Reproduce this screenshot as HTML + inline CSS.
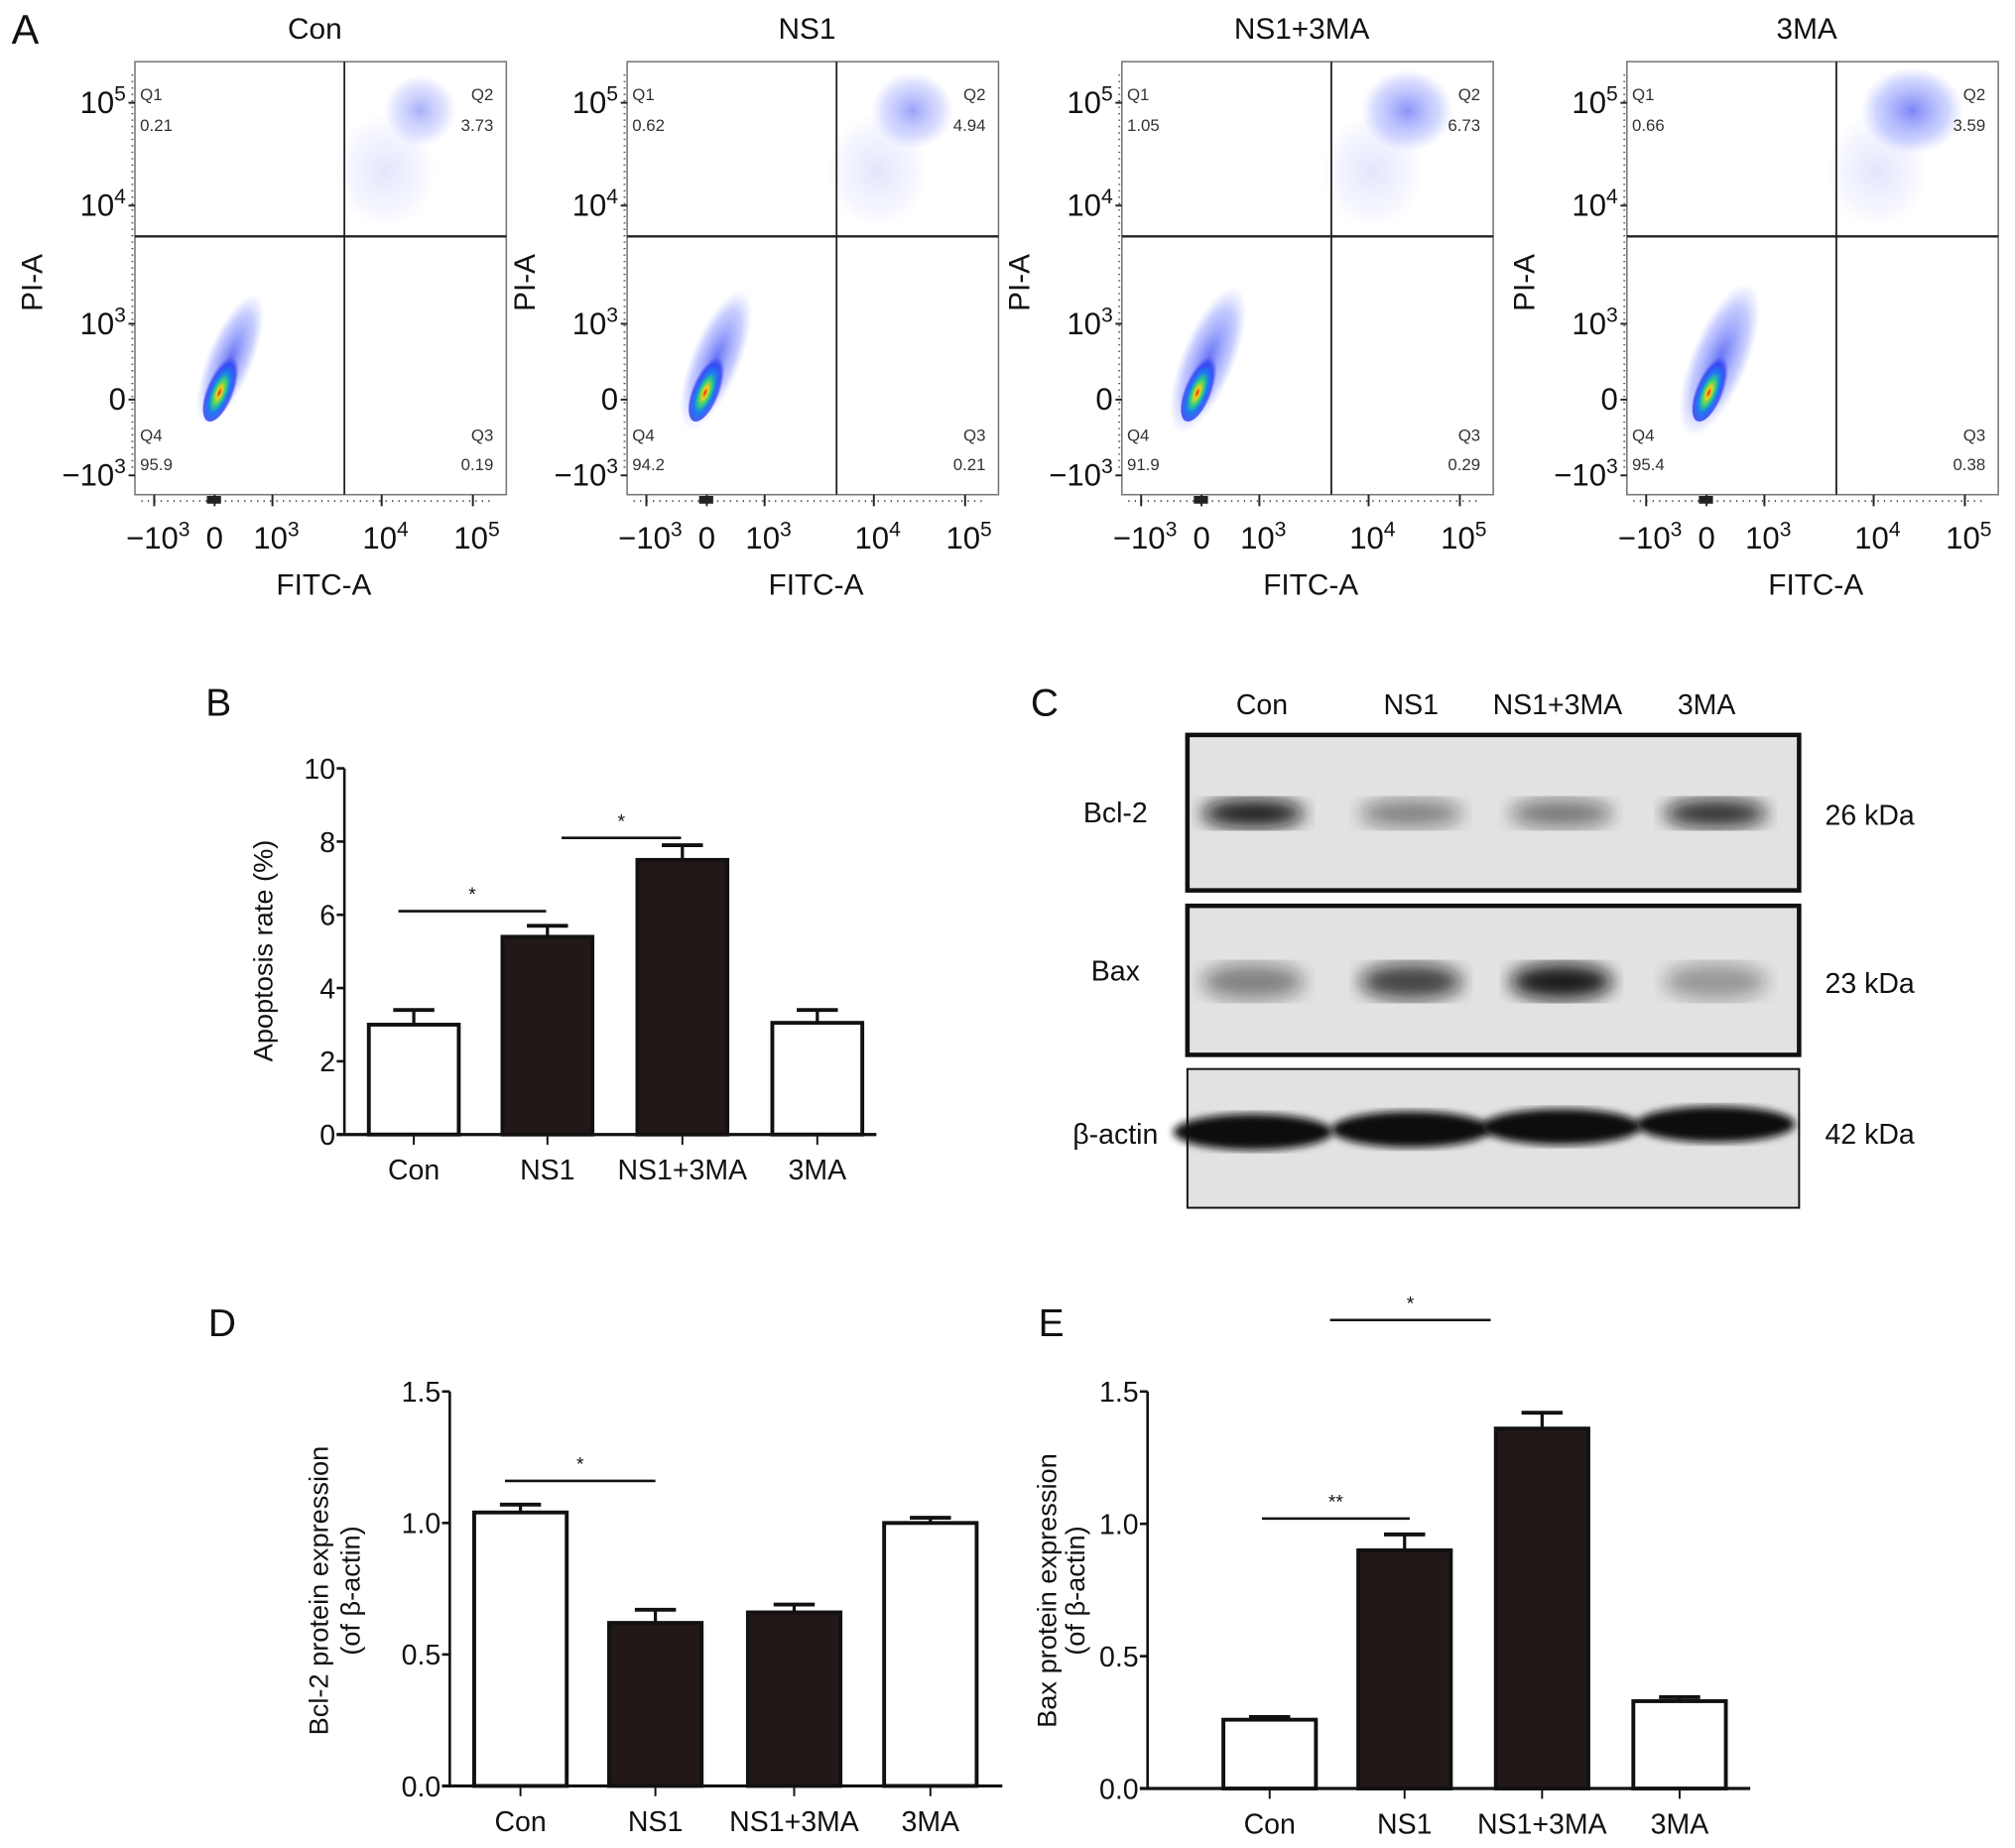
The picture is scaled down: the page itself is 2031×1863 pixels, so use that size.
<!DOCTYPE html>
<html><head><meta charset="utf-8"><style>
html,body{margin:0;padding:0;background:#fff;}
svg{display:block;font-family:"Liberation Sans",Arial,sans-serif;}
</style></head><body>
<svg id="fig" width="2031" height="1863" viewBox="0 0 1568 1438.3" preserveAspectRatio="none" xmlns="http://www.w3.org/2000/svg">
<defs>
<radialGradient id="dens" cx="50%" cy="60%" r="50%">
<stop offset="0" stop-color="#e0201a"/><stop offset="0.15" stop-color="#f2d21a"/><stop offset="0.35" stop-color="#33d07a"/><stop offset="0.55" stop-color="#1a7ef0"/><stop offset="0.8" stop-color="#2a3af0" stop-opacity="0.8"/><stop offset="1" stop-color="#4050ff" stop-opacity="0"/>
</radialGradient>
<radialGradient id="sparse" cx="50%" cy="50%" r="50%">
<stop offset="0" stop-color="#3040f0" stop-opacity="0.75"/><stop offset="0.7" stop-color="#6070ff" stop-opacity="0.35"/><stop offset="1" stop-color="#8090ff" stop-opacity="0"/>
</radialGradient>
<filter id="blur6"><feGaussianBlur stdDeviation="7"/></filter>
<filter id="blur3"><feGaussianBlur stdDeviation="3"/></filter>
</defs>
<g id="panelA"></g>
<g id="panelB"></g>
<g id="panelC"></g>
<g id="panelD"></g>
<g id="panelE"></g>
</svg>
<script>
// ---- Panel A data ----
const flowTitles = ["Con", "NS1", "NS1+3MA", "3MA"];
const flowQ1 = ["0.21", "0.62", "1.05", "0.66"];
const flowQ2 = ["3.73", "4.94", "6.73", "3.59"];
const flowQ3 = ["0.19", "0.21", "0.29", "0.38"];
const flowQ4 = ["95.9", "94.2", "91.9", "95.4"];
// ---- Panel B data ----
const groups = ["Con", "NS1", "NS1+3MA", "3MA"];
const apoptosisVals = [3.0, 5.4, 7.5, 3.05];
const apoptosisErr = [0.4, 0.3, 0.4, 0.35];
const apoptosisTicks = [0, 2, 4, 6, 8, 10];
// ---- Panel D data ----
const bcl2Vals = [1.04, 0.62, 0.66, 1.00];
const bcl2Err = [0.03, 0.05, 0.03, 0.02];
// ---- Panel E data ----
const baxVals = [0.26, 0.90, 1.36, 0.33];
const baxErr = [0.01, 0.06, 0.06, 0.015];
const exprTicks = ["0.0", "0.5", "1.0", "1.5"];
// ---- Panel C band intensities ----
const bcl2Band = [0.95, 0.45, 0.5, 0.85];
const baxBand = [0.45, 0.75, 0.95, 0.35];
const actinBand = [1, 1, 1, 1];

const NS = "http://www.w3.org/2000/svg";
function mk(parent, tag, attrs, text) {
  const e = document.createElementNS(NS, tag);
  for (const k in attrs) e.setAttribute(k, attrs[k]);
  if (text !== undefined) e.textContent = text;
  parent.appendChild(e);
  return e;
}
function pow(parent, x, y, base, exp, size, anchor) {
  const t = mk(parent, "text", {x: x, y: y, "font-size": size, "text-anchor": anchor || "middle", fill: "#111"});
  const a = document.createElementNS(NS, "tspan"); a.textContent = base; t.appendChild(a);
  const b = document.createElementNS(NS, "tspan"); b.setAttribute("dy", -size * 0.4); b.setAttribute("font-size", size * 0.68); b.textContent = exp; t.appendChild(b);
  return t;
}

// ===== Panel A =====
const A = document.getElementById("panelA");
const lbA = mk(A, "text", {x: 9, y: 34, "font-size": 32, fill: "#111"}, "A");


const boxLefts = [105, 488, 873, 1266];
const boxW = 289, boxTop = 48, boxH = 337;
const blobShift = [[0, 0], [-5, 0], [-7, 0], [-2, 0]];
flowTitles.forEach((title, i) => {
  const L = boxLefts[i];
  const g = mk(A, "g", {});
  
  
  const tt = mk(g, "text", {x: L + 140, y: 30, "font-size": 23, "text-anchor": "middle", fill: "#111"}, title);
  
  
  const s = blobShift[i];
  mk(g, "ellipse", {cx: L + 74 + s[0], cy: boxTop + 232, rx: 18 + i * 1.5, ry: 55 + i * 3, fill: "url(#sparse)", transform: `rotate(22 ${L + 74 + s[0]} ${boxTop + 232})`});
  mk(g, "ellipse", {cx: L + 68 + s[0], cy: boxTop + 252, rx: 11, ry: 30, fill: "url(#dens)", transform: `rotate(22 ${L + 68 + s[0]} ${boxTop + 252})`});
  mk(g, "ellipse", {cx: L + 222, cy: boxTop + 38, rx: 28 + i * 4, ry: 28 + i * 2, fill: "url(#sparse)", opacity: 0.55 + i * 0.1});
  mk(g, "ellipse", {cx: L + 195, cy: boxTop + 85, rx: 40, ry: 45, fill: "url(#sparse)", opacity: 0.18});
  const bx = mk(g, "rect", {x: L, y: boxTop, width: boxW, height: boxH, fill: "none", stroke: "#777", "stroke-width": 1.2});
  
  
  mk(g, "line", {x1: L, x2: L + boxW, y1: boxTop + 136, y2: boxTop + 136, stroke: "#222", "stroke-width": 1.8});
  mk(g, "line", {x1: L + 163, x2: L + 163, y1: boxTop, y2: boxTop + boxH, stroke: "#222", "stroke-width": 1.4});
  const qs = [["Q1", L + 4, 78, "start"], [flowQ1[i], L + 4, 102, "start"], ["Q2", L + 279, 78, "end"], [flowQ2[i], L + 279, 102, "end"],
              ["Q4", L + 4, 343, "start"], [flowQ4[i], L + 4, 366, "start"], ["Q3", L + 279, 343, "end"], [flowQ3[i], L + 279, 366, "end"]];
  qs.forEach(q => {
    const t = mk(g, "text", {x: q[1], y: q[2], "font-size": 13, "text-anchor": q[3], fill: "#333"}, q[0]);
    
    
  });
  const yt = [[32, "10", "5"], [112, "10", "4"], [204, "10", "3"], [263, "0", null], [322, "\u221210", "3"]];
  yt.forEach(t => {
    const y = boxTop + t[0];
    mk(g, "line", {x1: L - 5, x2: L, y1: y, y2: y, stroke: "#222", "stroke-width": 1.5});
    if (t[2]) pow(g, L - 7, y + 8, t[1], t[2], 24, "end");
    else mk(g, "text", {x: L - 7, y: y + 8, "font-size": 24, "text-anchor": "end", fill: "#111"}, t[1]);
  });
  mk(g, "line", {x1: L - 2, x2: L - 2, y1: boxTop + 10, y2: boxTop + boxH - 20, stroke: "#555", "stroke-width": 1.5, "stroke-dasharray": "1 4"});
  mk(g, "line", {x1: L + 5, x2: L + boxW - 10, y1: boxTop + boxH + 5, y2: boxTop + boxH + 5, stroke: "#555", "stroke-width": 1.5, "stroke-dasharray": "1 4"});
  mk(g, "rect", {x: L + 56, y: boxTop + boxH + 1, width: 11, height: 6, fill: "#222"});
  const xt = [[15, "\u221210", "3"], [62, "0", null], [107, "10", "3"], [192, "10", "4"], [263, "10", "5"]];
  xt.forEach(t => {
    const x = L + t[0];
    mk(g, "line", {x1: x, x2: x, y1: boxTop + boxH, y2: boxTop + boxH + 9, stroke: "#222", "stroke-width": 1.5});
    if (t[2]) pow(g, x + 3, 427, t[1], t[2], 24, "middle");
    else mk(g, "text", {x: x, y: 427, "font-size": 24, "text-anchor": "middle", fill: "#111"}, t[1]);
  });
  const xl = mk(g, "text", {x: L + 147, y: 463, "font-size": 23, "text-anchor": "middle", fill: "#111"}, "FITC-A");
  
  
  const yl = mk(g, "text", {x: 0, y: 0, "font-size": 23, "text-anchor": "middle", fill: "#111", transform: `translate(${L - 72},220) rotate(-90)`}, "PI-A");
  
  
});

// ===== generic bar chart =====
function barChart(root, cfg) {
  const {vals, errs, ticks, tickLabels, yMax, x0, x1, yBase, yTop, centers, barW, fills, title, label, labelPos, sig} = cfg;
  const ys = v => yBase - (v / yMax) * (yBase - yTop);
  const lb = mk(root, "text", {x: labelPos[0], y: labelPos[1], "font-size": 30, fill: "#111"}, label);
  
  
  const ya = mk(root, "line", {x1: x0, x2: x0, y1: ys(yMax), y2: yBase, stroke: "#111", "stroke-width": 2});
  
  
  ticks.forEach((t, i) => {
    const y = ys(t);
    mk(root, "line", {x1: x0 - 6, x2: x0, y1: y, y2: y, stroke: "#111", "stroke-width": 2});
    const tl = mk(root, "text", {x: x0 - 7, y: y + 8, "font-size": 22, "text-anchor": "end", fill: "#111"}, tickLabels[i]);
    
    
  });
  vals.forEach((v, i) => {
    const cx = centers[i];
    const top = ys(v), et = ys(v + errs[i]);
    mk(root, "line", {x1: cx, x2: cx, y1: et, y2: top, stroke: "#111", "stroke-width": 2.5});
    mk(root, "line", {x1: cx - 16, x2: cx + 16, y1: et, y2: et, stroke: "#111", "stroke-width": 3});
    const b = mk(root, "rect", {x: cx - barW / 2, y: top, width: barW, height: yBase - top, fill: fills[i] ? "#231818" : "#fff", stroke: "#111", "stroke-width": 3});
    
    
    mk(root, "line", {x1: cx, x2: cx, y1: yBase, y2: yBase + 8, stroke: "#111", "stroke-width": 1.5});
    const gl = mk(root, "text", {x: cx, y: yBase + 35, "font-size": 22, "text-anchor": "middle", fill: "#111"}, groups[i]);
    
    
  });
  const xa = mk(root, "line", {x1: x0 - 6, x2: x1, y1: yBase, y2: yBase, stroke: "#111", "stroke-width": 2.5});
  
  
  sig.forEach(s => {
    const y = ys(s[0]);
    const l = mk(root, "line", {x1: s[1], x2: s[2], y1: y, y2: y, stroke: "#111", "stroke-width": 2});
    
    
    mk(root, "text", {x: (s[1] + s[2]) / 2, y: y - 8, "font-size": 15, "text-anchor": "middle", fill: "#111"}, s[3]);
  });
  const yl = mk(root, "text", {x: 0, y: 0, "font-size": 21, "text-anchor": "middle", fill: "#111", transform: `translate(${title.x},${title.y}) rotate(-90)`});
  
  
  title.lines.forEach((ln, k) => {
    const ts = document.createElementNS(NS, "tspan");
    ts.setAttribute("x", 0); ts.setAttribute("dy", k === 0 ? 0 : (title.dy || 25)); ts.textContent = ln; yl.appendChild(ts);
  });
}

barChart(document.getElementById("panelB"), {
  vals: apoptosisVals, errs: apoptosisErr, ticks: apoptosisTicks, tickLabels: apoptosisTicks.map(String),
  yMax: 10, x0: 268, x1: 682, yBase: 883, yTop: 598, centers: [322, 426, 531, 636], barW: 70,
  fills: [0, 1, 1, 0], label: "B", labelPos: [160, 557],
  title: {x: 212, y: 740, lines: ["Apoptosis rate (%)"]},
  sig: [[6.1, 310, 425, "*"], [8.1, 437, 530, "*"]]
});
barChart(document.getElementById("panelD"), {
  vals: bcl2Vals, errs: bcl2Err, ticks: [0, 0.5, 1.0, 1.5], tickLabels: exprTicks,
  yMax: 1.5, x0: 350, x1: 780, yBase: 1390, yTop: 1083, centers: [405, 510, 618, 724], barW: 72,
  fills: [0, 1, 1, 0], label: "D", labelPos: [162, 1040],
  title: {x: 255, y: 1238, lines: ["Bcl-2 protein expression", "(of \u03b2-actin)"]},
  sig: [[1.16, 393, 510, "*"]]
});
barChart(document.getElementById("panelE"), {
  vals: baxVals, errs: baxErr, ticks: [0, 0.5, 1.0, 1.5], tickLabels: exprTicks,
  yMax: 1.5, x0: 893, x1: 1362, yBase: 1392, yTop: 1083, centers: [988, 1093, 1200, 1307], barW: 72,
  fills: [0, 1, 1, 0], label: "E", labelPos: [808, 1040],
  title: {x: 822, y: 1238, dy: 22, lines: ["Bax protein expression", "(of \u03b2-actin)"]},
  sig: [[1.02, 982, 1097, "**"], [1.77, 1035, 1160, "*"]]
});

// ===== Panel C =====
const C = document.getElementById("panelC");
const lbC = mk(C, "text", {x: 802, y: 557, "font-size": 30, fill: "#111"}, "C");


const laneX = [982, 1098, 1212, 1328];
groups.forEach((gname, i) => {
  const t = mk(C, "text", {x: laneX[i], y: 556, "font-size": 22, "text-anchor": "middle", fill: "#111"}, gname);
  
  
});
const bandCenters = [975, 1098, 1215, 1335];
const blots = [
  {name: "Bcl-2", kda: "26 kDa", y: 572, h: 121, band: bcl2Band, by: 633, bh: 11},
  {name: "Bax", kda: "23 kDa", y: 705, h: 116, band: baxBand, by: 764, bh: 14},
  {name: "\u03b2-actin", kda: "42 kDa", y: 832, h: 108, band: actinBand, by: 881, bh: 10}
];
blots.forEach((b, k) => {
  const g = mk(C, "g", {});
  
  
  mk(g, "rect", {x: 924, y: b.y, width: 476, height: b.h, fill: "#e2e2e2", stroke: "#111", "stroke-width": k === 2 ? 1.5 : 3.5});
  b.band.forEach((v, i) => {
    const cx = bandCenters[i];
    const yy = k === 2 ? b.by - i * 2 : b.by;
    mk(g, "ellipse", {cx: cx, cy: yy, rx: k === 2 ? 62 : 40, ry: b.bh + (k === 2 ? 4 : 0), fill: "#111", opacity: v, filter: k === 2 ? "url(#blur3)" : "url(#blur6)"});
  });
  mk(g, "text", {x: 868, y: b.y + (k === 0 ? 68 : 58), "font-size": 22, "text-anchor": "middle", fill: "#111"}, b.name);
  mk(g, "text", {x: 1455, y: b.y + (k === 0 ? 70 : k === 1 ? 68 : 58), "font-size": 22, "text-anchor": "middle", fill: "#111"}, b.kda);
});
</script>
</body></html>
